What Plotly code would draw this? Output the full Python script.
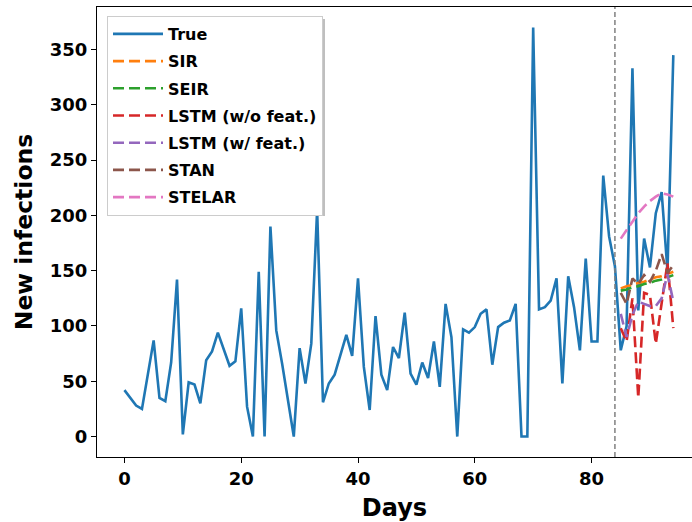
import plotly.graph_objects as go

# ---------------- data ----------------
days_true = list(range(0, 95))
true_cases = [42, 35, 28, 25, 55, 87, 35, 32, 67, 142,
              2, 49, 47, 30, 69, 77, 94, 78, 64, 68,
              116, 27, 0, 149, 0, 190, 96, 66, 35, 0,
              80, 48, 84, 205, 31, 48, 56, 75, 92, 73,
              143, 63, 24, 109, 56, 42, 81, 71, 112, 57,
              47, 67, 53, 86, 45, 120, 90, 0, 97, 94,
              99, 111, 115, 65, 99, 103, 105, 120, 0, 0,
              370, 115, 117, 123, 143, 48, 145, 117, 78, 161,
              86, 86, 236, 181, 154, 78, 100, 333, 114, 179,
              153, 202, 221, 150, 345]

days_fc = list(range(85, 95))
sir = [134, 136, 137, 139, 140, 142, 144, 145, 147, 149]
seir = [132, 133, 135, 136, 138, 139, 141, 142, 144, 146]
lstm_wo = [98, 86, 125, 35, 130, 128, 84, 122, 157, 98]
lstm_w = [111, 90, 110, 122, 120, 118, 118, 125, 147, 122]
stan = [130, 120, 143, 138, 146, 140, 150, 165, 148, 155]
stelar = [179, 187, 195, 202, 208, 213, 217, 220, 219, 217]

split_day = 84
x_ticks = [0, 20, 40, 60, 80]
y_ticks = [0, 50, 100, 150, 200, 250, 300, 350]

# ---------------- figure ----------------
FONT = "DejaVu Sans"
DASH = "11px,5px"
LW = 2.6

fig = go.Figure()
fig.add_trace(go.Scatter(x=days_true, y=true_cases, mode="lines", name="True",
                         line=dict(color="#1f77b4", width=LW), legendgroup="a"))
series = [("SIR", sir, "#ff7f0e"), ("SEIR", seir, "#2ca02c"),
          ("LSTM (w/o feat.)", lstm_wo, "#d62728"),
          ("LSTM (w/ feat.)", lstm_w, "#9467bd"),
          ("STAN", stan, "#8c564b"), ("STELAR", stelar, "#e377c2")]
for i, (nm, vals, col) in enumerate(series):
    fig.add_trace(go.Scatter(x=days_fc, y=vals, mode="lines", name=nm,
                             line=dict(color=col, width=LW, dash=DASH),
                             legendgroup="g%d" % i))

fig.add_shape(type="line", xref="x", yref="paper", x0=split_day, x1=split_day,
              y0=0, y1=1, line=dict(color="#808080", width=1.5, dash="5px,3px"))

# legend shadow
fig.add_shape(type="rect", xref="paper", yref="paper", layer="above",
              x0=(110 - 97) / 595, x1=(325 - 97) / 595,
              y0=(457 - 216) / 450, y1=(457 - 19) / 450,
              line=dict(width=0), fillcolor="rgba(0,0,0,0.25)")

axis_common = dict(showgrid=False, zeroline=False, showline=True,
                   linecolor="black", linewidth=1.3, ticks="outside",
                   ticklen=5, tickwidth=1.3, tickcolor="black",
                   tickfont=dict(family=FONT, size=18, color="black", weight="bold"))

fig.update_layout(
    width=692, height=522,
    margin=dict(l=97, r=0, t=7, b=65),
    plot_bgcolor="white", paper_bgcolor="white",
    xaxis=dict(range=[-4.7, 97.2], tickvals=x_ticks, mirror=True,
               title=dict(text="Days", standoff=14,
                          font=dict(family=FONT, size=24, color="black", weight="bold")),
               **axis_common),
    yaxis=dict(range=[-18.5, 388.5], tickvals=y_ticks,
               title=dict(text="New infections", standoff=10,
                          font=dict(family=FONT, size=23.5, color="black", weight="bold")),
               **axis_common),
    legend=dict(x=(107 - 97) / 595, y=(457 - 16) / 450, xanchor="left", yanchor="top",
                bgcolor="white", bordercolor="#cccccc", borderwidth=1,
                font=dict(family=FONT, size=16, color="black", weight="bold"),
                tracegroupgap=3.4, traceorder="grouped", itemwidth=50),
    showlegend=True,
)

fig.write_html("out.html", config={"displayModeBar": False},
               post_script="document.body.style.margin='0';")
